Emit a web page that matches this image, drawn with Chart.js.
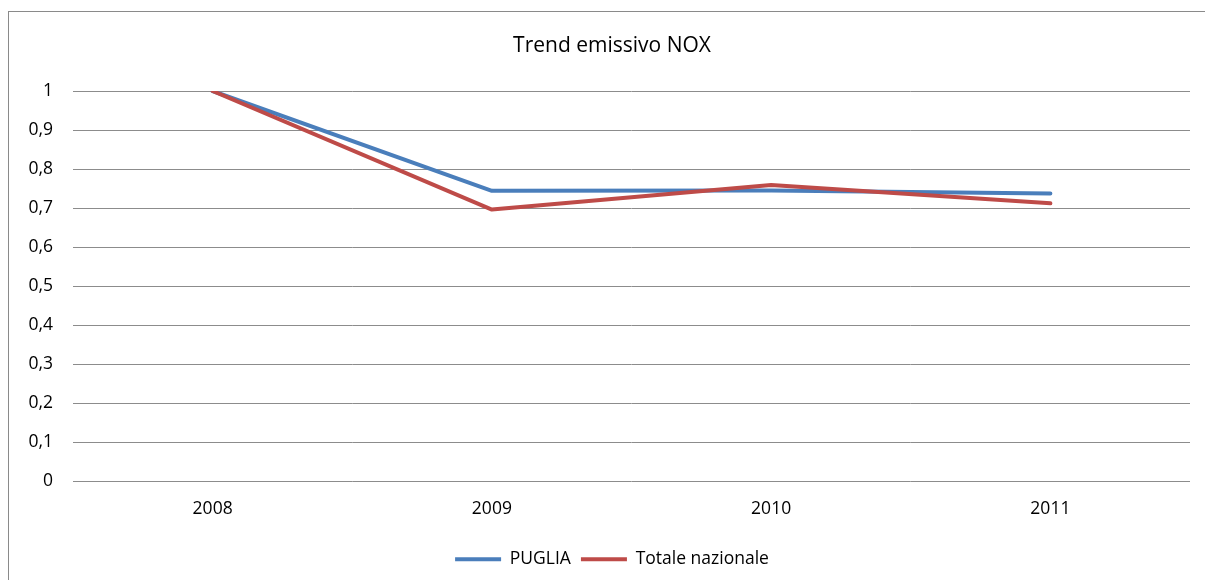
<!DOCTYPE html>
<html>
<head>
<meta charset="utf-8">
<script src="https://cdn.jsdelivr.net/npm/chart.js@4/dist/chart.umd.min.js"></script>
<style>
  html, body { margin: 0; padding: 0; background: #fff; overflow: hidden; width: 1205px; height: 580px; }
  #frame { position: absolute; left: 8px; top: 11px; width: 1260px; height: 640px; border-left: 1px solid #8a8a8a; border-top: 1px solid #8a8a8a; }
  #wrap { position: absolute; left: 8px; top: 11px; width: 1208px; height: 580px; }
</style>
</head>
<body>
<div id="frame"></div>
<div id="wrap"><canvas id="c" width="1208" height="580"></canvas></div>
<script>
const categories = ['2008', '2009', '2010', '2011'];
const puglia = [1, 0.744, 0.745, 0.737];
const totaleNazionale = [1, 0.696, 0.759, 0.712];
const yTicks = [0, 0.1, 0.2, 0.3, 0.4, 0.5, 0.6, 0.7, 0.8, 0.9, 1];
const titleText = 'Trend emissivo NOX';

const FONT = '"Open Sans", Lato, sans-serif';
const BLUE = '#4a7ebb';
const RED = '#be4b48';

new Chart(document.getElementById('c'), {
  type: 'line',
  data: {
    labels: categories,
    datasets: [
      { label: 'PUGLIA', data: puglia, borderColor: BLUE, backgroundColor: BLUE, borderWidth: 4, pointRadius: 0, tension: 0, order: 2, borderCapStyle: 'round', borderJoinStyle: 'round' },
      { label: 'Totale nazionale', data: totaleNazionale, borderColor: RED, backgroundColor: RED, borderWidth: 4, pointRadius: 0, tension: 0, order: 1, borderCapStyle: 'round', borderJoinStyle: 'round' }
    ]
  },
  options: {
    responsive: false,
    animation: false,
    layout: { padding: { left: 0, right: 0, top: 0, bottom: 13 } },
    plugins: {
      tooltip: { enabled: false },
      title: {
        display: true,
        text: titleText,
        color: '#000',
        font: { family: FONT, size: 21, weight: 'normal' },
        padding: { top: 22.4, bottom: 32.4 }
      },
      legend: {
        position: 'bottom',
        labels: {
          color: '#000',
          font: { family: FONT, size: 17.5 },
          usePointStyle: true,
          pointStyle: 'line',
          pointStyleWidth: 46,
          boxHeight: 17.5,
          padding: 10,
          sort: (a, b) => a.datasetIndex - b.datasetIndex
        }
      }
    },
    scales: {
      x: {
        offset: true,
        grid: { display: false, drawTicks: false },
        border: { display: false },
        ticks: { color: '#000', font: { family: FONT, size: 17.5 }, padding: 18, maxRotation: 0 },
        afterFit: (s) => { s.height = 59.5; }
      },
      y: {
        min: 0,
        max: 1,
        afterBuildTicks: (s) => { s.ticks = yTicks.map(v => ({ value: v })); },
        grid: { color: '#8c8c8c', lineWidth: 1, drawTicks: false },
        border: { display: false },
        ticks: {
          color: '#000',
          font: { family: FONT, size: 17.5 },
          padding: 20,
          callback: (v) => String(Math.round(v * 10) / 10).replace('.', ',')
        },
        afterFit: (s) => { s.width = 65; }
      },
      yRight: {
        position: 'right',
        min: 0,
        max: 1,
        grid: { display: false, drawTicks: false },
        border: { display: false },
        ticks: { display: false },
        afterFit: (s) => { s.width = 26; }
      }
    }
  }
});
</script>
</body>
</html>
